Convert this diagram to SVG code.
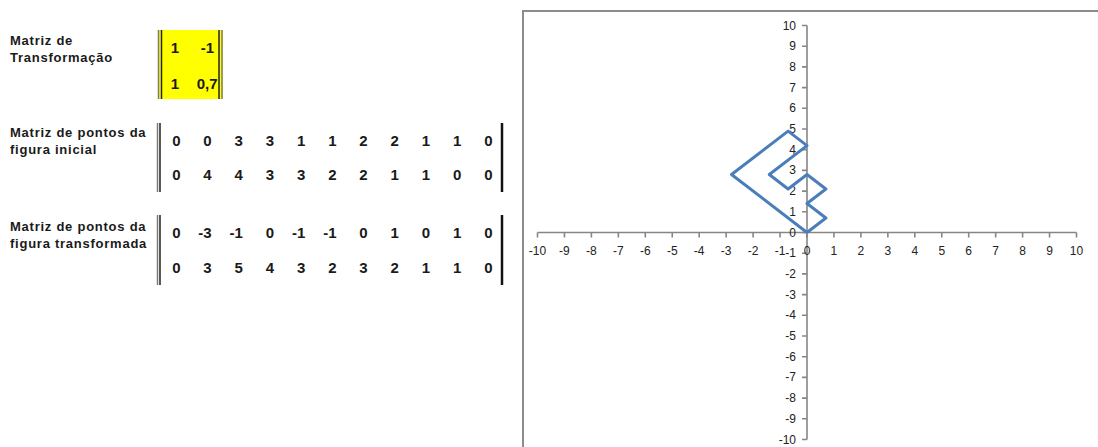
<svg xmlns="http://www.w3.org/2000/svg" width="1098" height="447" viewBox="0 0 1098 447">
<style>
.lbl{font-family:"Liberation Sans",Arial,sans-serif;font-weight:bold;font-size:13px;letter-spacing:0.75px;fill:#1a1a1a}
.num{font-family:"Liberation Sans",Arial,sans-serif;font-weight:bold;font-size:15px;fill:#1a1a1a;text-anchor:end}
.barO{stroke:#7a7a7a;stroke-width:1.5;fill:none}
.barI{stroke:#222;stroke-width:1.5;fill:none}
.barR{stroke:#111;stroke-width:2.5;fill:none}
.ax{stroke:#868686;stroke-width:1.6;fill:none}
.tk{font-family:"Liberation Sans",Arial,sans-serif;font-size:12px;fill:#222}
.xt{text-anchor:middle}
.yt{text-anchor:end}
</style>
<rect width="1098" height="447" fill="#fff"/>

<g id="matriz-transformacao">
<text class="lbl" x="10" y="45">Matriz de</text>
<text class="lbl" x="10" y="62">Transformação</text>
<rect x="158" y="30" width="65" height="69" fill="#ffff00"/>
<line class="barO" x1="158.5" y1="30" x2="158.5" y2="99"/>
<line class="barI" x1="161.5" y1="30" x2="161.5" y2="99"/>
<line class="barI" x1="219" y1="30" x2="219" y2="99"/>
<line class="barO" x1="222" y1="30" x2="222" y2="99"/>
<text class="num" x="179" y="53">1</text>
<text class="num" x="214" y="53">-1</text>
<text class="num" x="179" y="89">1</text>
<text class="num" x="217.5" y="89">0,7</text>
</g>

<g id="matriz-inicial">
<text class="lbl" x="10" y="137">Matriz de pontos da</text>
<text class="lbl" x="10" y="154">figura inicial</text>
<line class="barO" x1="157.5" y1="123" x2="157.5" y2="192"/>
<line class="barI" x1="160" y1="123" x2="160" y2="192"/>
<line class="barR" x1="502" y1="123" x2="502" y2="192"/>
<text class="num" y="146"><tspan x="180.5">0</tspan><tspan x="211.7">0</tspan><tspan x="242.9">3</tspan><tspan x="274.1">3</tspan><tspan x="305.3">1</tspan><tspan x="336.5">1</tspan><tspan x="367.7">2</tspan><tspan x="398.9">2</tspan><tspan x="430.1">1</tspan><tspan x="461.3">1</tspan><tspan x="492.5">0</tspan></text>
<text class="num" y="180"><tspan x="180.5">0</tspan><tspan x="211.7">4</tspan><tspan x="242.9">4</tspan><tspan x="274.1">3</tspan><tspan x="305.3">3</tspan><tspan x="336.5">2</tspan><tspan x="367.7">2</tspan><tspan x="398.9">1</tspan><tspan x="430.1">1</tspan><tspan x="461.3">0</tspan><tspan x="492.5">0</tspan></text>
</g>

<g id="matriz-transformada">
<text class="lbl" x="10" y="231">Matriz de pontos da</text>
<text class="lbl" x="10" y="248">figura transformada</text>
<line class="barO" x1="157.5" y1="215" x2="157.5" y2="285"/>
<line class="barI" x1="160" y1="215" x2="160" y2="285"/>
<line class="barR" x1="502" y1="215" x2="502" y2="285"/>
<text class="num" y="238"><tspan x="180.5">0</tspan><tspan x="211.7">-3</tspan><tspan x="242.9">-1</tspan><tspan x="274.1">0</tspan><tspan x="305.3">-1</tspan><tspan x="336.5">-1</tspan><tspan x="367.7">0</tspan><tspan x="398.9">1</tspan><tspan x="430.1">0</tspan><tspan x="461.3">1</tspan><tspan x="492.5">0</tspan></text>
<text class="num" y="273"><tspan x="180.5">0</tspan><tspan x="211.7">3</tspan><tspan x="242.9">5</tspan><tspan x="274.1">4</tspan><tspan x="305.3">3</tspan><tspan x="336.5">2</tspan><tspan x="367.7">3</tspan><tspan x="398.9">2</tspan><tspan x="430.1">1</tspan><tspan x="461.3">1</tspan><tspan x="492.5">0</tspan></text>
</g>

<g id="grafico">
<rect x="523" y="11" width="600" height="500" fill="none" stroke="#8c8c8c" stroke-width="2"/>
<g id="eixos">
<line class="ax" x1="537.5" y1="232.5" x2="1076.5" y2="232.5"/>
<line class="ax" x1="807" y1="25.5" x2="807" y2="439.5"/>
<path class="ax" d="M537.5 232.5v5M564.45 232.5v5M591.4 232.5v5M618.35 232.5v5M645.3 232.5v5M672.25 232.5v5M699.2 232.5v5M726.15 232.5v5M753.1 232.5v5M780.05 232.5v5M807 232.5v5M833.95 232.5v5M860.9 232.5v5M887.85 232.5v5M914.8 232.5v5M941.75 232.5v5M968.7 232.5v5M995.65 232.5v5M1022.6 232.5v5M1049.55 232.5v5M1076.5 232.5v5"/>
<path class="ax" d="M807 25.5h-5M807 46.2h-5M807 66.9h-5M807 87.6h-5M807 108.3h-5M807 129h-5M807 149.7h-5M807 170.4h-5M807 191.1h-5M807 211.8h-5M807 232.5h-5M807 253.2h-5M807 273.9h-5M807 294.6h-5M807 315.3h-5M807 336h-5M807 356.7h-5M807 377.4h-5M807 398.1h-5M807 418.8h-5M807 439.5h-5"/>
</g>
<g id="rotulos-x" class="tk xt">
<text x="537.5" y="254.5">-10</text><text x="564.45" y="254.5">-9</text><text x="591.4" y="254.5">-8</text><text x="618.35" y="254.5">-7</text><text x="645.3" y="254.5">-6</text><text x="672.25" y="254.5">-5</text><text x="699.2" y="254.5">-4</text><text x="726.15" y="254.5">-3</text><text x="753.1" y="254.5">-2</text><text x="780.05" y="254.5">-1</text><text x="807" y="254.5">0</text><text x="833.95" y="254.5">1</text><text x="860.9" y="254.5">2</text><text x="887.85" y="254.5">3</text><text x="914.8" y="254.5">4</text><text x="941.75" y="254.5">5</text><text x="968.7" y="254.5">6</text><text x="995.65" y="254.5">7</text><text x="1022.6" y="254.5">8</text><text x="1049.55" y="254.5">9</text><text x="1076.5" y="254.5">10</text>
</g>
<g id="rotulos-y" class="tk yt">
<text x="796" y="29.5">10</text><text x="796" y="50.2">9</text><text x="796" y="70.9">8</text><text x="796" y="91.6">7</text><text x="796" y="112.3">6</text><text x="796" y="133">5</text><text x="796" y="153.7">4</text><text x="796" y="174.4">3</text><text x="796" y="195.1">2</text><text x="796" y="215.8">1</text><text x="796" y="236.5">0</text><text x="796" y="257.2">-1</text><text x="796" y="277.9">-2</text><text x="796" y="298.6">-3</text><text x="796" y="319.3">-4</text><text x="796" y="340">-5</text><text x="796" y="360.7">-6</text><text x="796" y="381.4">-7</text><text x="796" y="402.1">-8</text><text x="796" y="422.8">-9</text><text x="796" y="443.5">-10</text>
</g>
<g id="figura-transformada">
<polyline points="807,232.5 731.5,174.5 788.1,131.1 807,145.6 769.3,174.5 788.1,189 807,174.5 825.9,189 807,203.5 825.9,218 807,232.5" fill="none" stroke="#4a7ebb" stroke-width="3" stroke-linejoin="round"/>
</g>
</g>
</svg>
